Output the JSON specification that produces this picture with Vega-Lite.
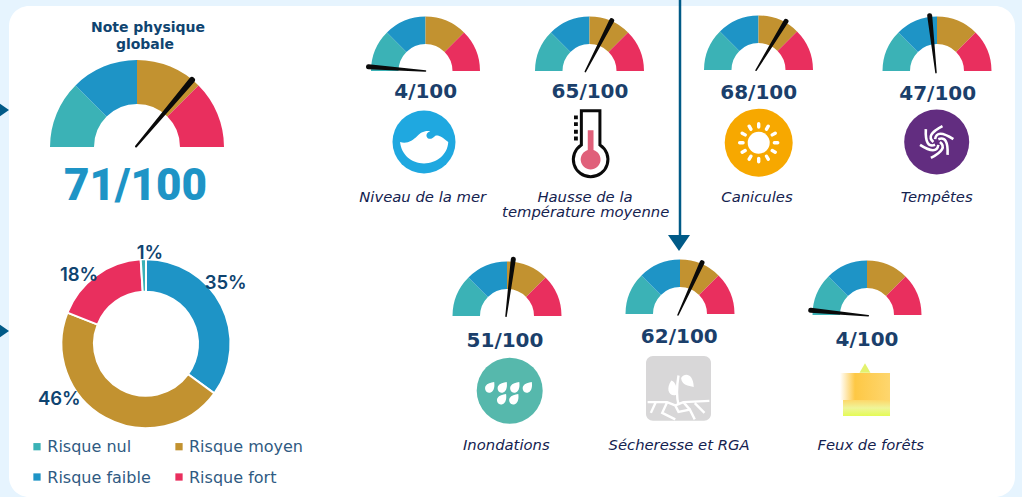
{"$schema":"https://vega.github.io/schema/vega-lite/v6.json","width":1022,"height":497,"padding":0,"autosize":"none","background":"#E6F4FE","config":{"view":{"stroke":null}},
"datasets":{
"seg":[
{"g":"Note physique globale","s":"main","col":137,"row":147,"cat":"Risque nul","from":0,"to":25},{"g":"Note physique globale","s":"main","col":137,"row":147,"cat":"Risque faible","from":25,"to":50},{"g":"Note physique globale","s":"main","col":137,"row":147,"cat":"Risque moyen","from":50,"to":75},{"g":"Note physique globale","s":"main","col":137,"row":147,"cat":"Risque fort","from":75,"to":100},
{"g":"Niveau de la mer","s":"small","col":425.5,"row":71,"cat":"Risque nul","from":0,"to":25},{"g":"Niveau de la mer","s":"small","col":425.5,"row":71,"cat":"Risque faible","from":25,"to":50},{"g":"Niveau de la mer","s":"small","col":425.5,"row":71,"cat":"Risque moyen","from":50,"to":75},{"g":"Niveau de la mer","s":"small","col":425.5,"row":71,"cat":"Risque fort","from":75,"to":100},
{"g":"Hausse","s":"small","col":589.5,"row":71,"cat":"Risque nul","from":0,"to":25},{"g":"Hausse","s":"small","col":589.5,"row":71,"cat":"Risque faible","from":25,"to":50},{"g":"Hausse","s":"small","col":589.5,"row":71,"cat":"Risque moyen","from":50,"to":75},{"g":"Hausse","s":"small","col":589.5,"row":71,"cat":"Risque fort","from":75,"to":100},
{"g":"Canicules","s":"small","col":758.5,"row":70,"cat":"Risque nul","from":0,"to":25},{"g":"Canicules","s":"small","col":758.5,"row":70,"cat":"Risque faible","from":25,"to":50},{"g":"Canicules","s":"small","col":758.5,"row":70,"cat":"Risque moyen","from":50,"to":75},{"g":"Canicules","s":"small","col":758.5,"row":70,"cat":"Risque fort","from":75,"to":100},
{"g":"Tempêtes","s":"small","col":937,"row":71,"cat":"Risque nul","from":0,"to":25},{"g":"Tempêtes","s":"small","col":937,"row":71,"cat":"Risque faible","from":25,"to":50},{"g":"Tempêtes","s":"small","col":937,"row":71,"cat":"Risque moyen","from":50,"to":75},{"g":"Tempêtes","s":"small","col":937,"row":71,"cat":"Risque fort","from":75,"to":100},
{"g":"Inondations","s":"small","col":507,"row":316,"cat":"Risque nul","from":0,"to":25},{"g":"Inondations","s":"small","col":507,"row":316,"cat":"Risque faible","from":25,"to":50},{"g":"Inondations","s":"small","col":507,"row":316,"cat":"Risque moyen","from":50,"to":75},{"g":"Inondations","s":"small","col":507,"row":316,"cat":"Risque fort","from":75,"to":100},
{"g":"Sécheresse","s":"small","col":680,"row":314,"cat":"Risque nul","from":0,"to":25},{"g":"Sécheresse","s":"small","col":680,"row":314,"cat":"Risque faible","from":25,"to":50},{"g":"Sécheresse","s":"small","col":680,"row":314,"cat":"Risque moyen","from":50,"to":75},{"g":"Sécheresse","s":"small","col":680,"row":314,"cat":"Risque fort","from":75,"to":100},
{"g":"Feux","s":"small","col":867,"row":315,"cat":"Risque nul","from":0,"to":25},{"g":"Feux","s":"small","col":867,"row":315,"cat":"Risque faible","from":25,"to":50},{"g":"Feux","s":"small","col":867,"row":315,"cat":"Risque moyen","from":50,"to":75},{"g":"Feux","s":"small","col":867,"row":315,"cat":"Risque fort","from":75,"to":100}
],
"needle":[
{"g":"Note physique globale","col":136,"row":146.5,"w":2},{"g":"Note physique globale","col":192,"row":80,"w":6},
{"g":"Niveau de la mer","col":425.5,"row":71,"w":1.5},{"g":"Niveau de la mer","col":368.5,"row":66.7,"w":5},
{"g":"Hausse","col":585.3,"row":71.7,"w":1.5},{"g":"Hausse","col":611.7,"row":20.7,"w":5},
{"g":"Canicules","col":756,"row":70.3,"w":1.5},{"g":"Canicules","col":786,"row":21.3,"w":5},
{"g":"Tempêtes","col":936,"row":72.7,"w":1.5},{"g":"Tempêtes","col":929.7,"row":15.7,"w":5},
{"g":"Inondations","col":506,"row":316.3,"w":1.5},{"g":"Inondations","col":513.3,"row":259.3,"w":5},
{"g":"Sécheresse","col":678,"row":315,"w":1.5},{"g":"Sécheresse","col":702,"row":262.7,"w":5},
{"g":"Feux","col":868.3,"row":315.7,"w":1.5},{"g":"Feux","col":810.7,"row":310.3,"w":5}
]},
"encoding":{
"x":{"field":"col","type":"quantitative","scale":{"domain":[0,1022],"range":[0,1022],"nice":false,"zero":false},"axis":null},
"y":{"field":"row","type":"quantitative","scale":{"domain":[0,497],"range":[0,497],"nice":false,"zero":false},"axis":null}},
"layer":[
{"data":{"values":[{"col":9,"row":6,"col2":1015,"row2":497}]},"mark":{"type":"rect","fill":"#FFFFFF","cornerRadius":20},"encoding":{"x2":{"field":"col2"},"y2":{"field":"row2"}}},
{"data":{"values":[{"col":680,"row":0,"row2":238}]},"mark":{"type":"rule","stroke":"#005A87","strokeWidth":2.5},"encoding":{"y2":{"field":"row2"}}},
{"data":{"values":[{"col":1,"row":110},{"col":1,"row":331}]},"mark":{"type":"point","shape":"M-0.73,-1L0.73,0L-0.73,1Z","filled":true,"fill":"#005A87","opacity":1,"size":484,"strokeWidth":0}},
{"data":{"values":[{"col":679,"row":243}]},"mark":{"type":"point","shape":"M-1,-0.73L1,-0.73L0,0.73Z","filled":true,"fill":"#005A87","opacity":1,"size":484,"strokeWidth":0}},
{"data":{"name":"seg"},"transform":[{"filter":"datum.s==='main'"}],"mark":{"type":"arc","radius":87,"radius2":43},"encoding":{"theta":{"field":"from","type":"quantitative","stack":null,"scale":{"domain":[0,100],"range":[-1.5708,1.5708]}},"theta2":{"field":"to"},"color":{"field":"cat","type":"nominal","legend":null,"scale":{"domain":["Risque nul","Risque faible","Risque moyen","Risque fort"],"range":["#3BB2B6","#1E94C6","#C29230","#E92F5E"]}}}},
{"data":{"name":"seg"},"transform":[{"filter":"datum.s==='small'"}],"mark":{"type":"arc","radius":54.5,"radius2":27},"encoding":{"theta":{"field":"from","type":"quantitative","stack":null,"scale":{"domain":[0,100],"range":[-1.5708,1.5708]}},"theta2":{"field":"to"},"color":{"field":"cat","type":"nominal","legend":null}}},
{"data":{"name":"needle"},"mark":{"type":"trail","fill":"#0A0A0A","opacity":1},"encoding":{"detail":{"field":"g"},"size":{"field":"w","type":"quantitative","legend":null,"scale":{"domain":[0,6],"range":[0,6]}}}},
{"data":{"values":[{"col":146,"row":343.7,"cat":"Risque faible","share":35,"rank":1},{"col":146,"row":343.7,"cat":"Risque moyen","share":46,"rank":2},{"col":146,"row":343.7,"cat":"Risque fort","share":18,"rank":3},{"col":146,"row":343.7,"cat":"Risque nul","share":1,"rank":4}]},"mark":{"type":"arc","radius":84.5,"radius2":52,"stroke":"#FFFFFF","strokeWidth":2},"encoding":{"theta":{"field":"share","type":"quantitative","stack":true,"scale":{"domain":[0,100],"range":[0,6.2832]}},"order":{"field":"rank"},"color":{"field":"cat","type":"nominal","legend":null}}},
{"data":{"values":[{"col":37,"row":446.7,"cat":"Risque nul"},{"col":179,"row":446.7,"cat":"Risque moyen"},{"col":37,"row":477,"cat":"Risque faible"},{"col":179,"row":477,"cat":"Risque fort"}]},"mark":{"type":"point","shape":"square","filled":true,"size":53,"opacity":1},"encoding":{"color":{"field":"cat","type":"nominal","legend":null}}},
{"data":{"values":[{"col":47.3,"row":452,"t":"Risque nul"},{"col":189,"row":452,"t":"Risque moyen"},{"col":47.3,"row":482.7,"t":"Risque faible"},{"col":189,"row":482.7,"t":"Risque fort"}]},"mark":{"type":"text","align":"left","baseline":"alphabetic","font":"DejaVu Sans","fontSize":16,"fontWeight":400,"fill":"#2F5A82"},"encoding":{"text":{"field":"t"}}},
{"data":{"values":[{"col":150,"row":259,"t":"1%"},{"col":79,"row":280.7,"t":"18%"},{"col":225.7,"row":289,"t":"35%"},{"col":59.3,"row":404.7,"t":"46%"}]},"mark":{"type":"text","align":"center","baseline":"alphabetic","font":"Inter","fontSize":18.5,"fontWeight":600,"fill":"#0F4470"},"encoding":{"text":{"field":"t"}}},
{"data":{"values":[{"col":148,"row":32,"t":"Note physique"},{"col":145,"row":49,"t":"globale"}]},"mark":{"type":"text","align":"center","baseline":"alphabetic","font":"DejaVu Sans","fontSize":14,"fontWeight":700,"fill":"#0F4470"},"encoding":{"text":{"field":"t"}}},
{"data":{"values":[{"col":135.5,"row":200,"t":"71/100"}]},"mark":{"type":"text","align":"center","baseline":"alphabetic","font":"Roboto","fontSize":44,"fontWeight":900,"fill":"#1E94C6"},"encoding":{"text":{"field":"t"}}},
{"data":{"values":[{"col":425.7,"row":98,"t":"4/100"},{"col":590,"row":98,"t":"65/100"},{"col":758.7,"row":99,"t":"68/100"},{"col":937.7,"row":100,"t":"47/100"},{"col":505,"row":346.7,"t":"51/100"},{"col":679.3,"row":342.7,"t":"62/100"},{"col":867,"row":345.7,"t":"4/100"}]},"mark":{"type":"text","align":"center","baseline":"alphabetic","font":"DejaVu Sans","fontSize":20,"fontWeight":700,"fill":"#1B3F6B"},"encoding":{"text":{"field":"t"}}},
{"data":{"values":[{"col":422.7,"row":201.7,"t":"Niveau de la mer"},{"col":585,"row":201.7,"t":"Hausse de la"},{"col":585.7,"row":217.3,"t":"température moyenne"},{"col":757,"row":201.7,"t":"Canicules"},{"col":936.7,"row":201.7,"t":"Tempêtes"},{"col":506.3,"row":450,"t":"Inondations"},{"col":679,"row":450,"t":"Sécheresse et RGA"},{"col":870.7,"row":450,"t":"Feux de forêts"}]},"mark":{"type":"text","align":"center","baseline":"alphabetic","font":"DejaVu Sans","fontSize":14.8,"fontStyle":"italic","fontWeight":400,"fill":"#14224F"},"encoding":{"text":{"field":"t"}}},
{"data":{"values":[{"col":424,"row":142}]},"mark":{"type":"point","shape":"circle","filled":true,"fill":"#1FA8E0","opacity":1,"size":3969,"strokeWidth":0}},
{"data":{"values":[{"col":424,"row":142}]},"mark":{"type":"point","shape":"M-.76,0C-.55,.08,-.35,-.05,-.22,-.18C-.12,-.28,0,-.37,.2,-.34C.08,-.3,.04,-.2,.12,-.12C.2,-.07,.28,-.12,.36,-.2C.45,-.24,.6,-.15,.77,0C.75,.4,.4,.68,0,.68C-.4,.68,-.72,.4,-.76,0Z","filled":true,"fill":"#FFFFFF","opacity":1,"size":3969,"strokeWidth":0}},
{"data":{"values":[{"col":590,"row":141.7}]},"mark":{"type":"point","shape":"M-.07,-.36L.11,-.36L.11,.26A.31,.31,0,1,1,-.07,.26Z","filled":true,"fill":"#E0607A","opacity":1,"size":4096,"strokeWidth":0}},
{"data":{"values":[{"col":590,"row":141.7}]},"mark":{"type":"point","shape":"M-.27,-.97L.31,-.97L.31,.1A.54,.54,0,1,1,-.27,.1Z","filled":false,"stroke":"#0A0A0A","opacity":1,"size":4096,"strokeWidth":3}},
{"data":{"values":[{"col":590,"row":141.7}]},"mark":{"type":"point","shape":"M-.5,-.82H-.38V-.7H-.5ZM-.5,-.61H-.38V-.49H-.5ZM-.5,-.37H-.38V-.25H-.5ZM-.5,-.16H-.38V-.04H-.5Z","filled":true,"fill":"#0A0A0A","opacity":1,"size":4096,"strokeWidth":0}},
{"data":{"values":[{"col":758.7,"row":142.7}]},"mark":{"type":"point","shape":"circle","filled":true,"fill":"#F7A800","opacity":1,"size":4624,"strokeWidth":0}},
{"data":{"values":[{"col":758.7,"row":142.7}]},"mark":{"type":"point","shape":"circle","filled":true,"fill":"#FFFFFF","opacity":1,"size":484,"strokeWidth":0}},
{"data":{"values":[{"col":758.7,"row":142.7}]},"mark":{"type":"point","shape":"M0,-.46L0,-.56M.23,-.398L.28,-.485M.398,-.23L.485,-.28M.46,0L.56,0M.398,.23L.485,.28M.23,.398L.28,.485M0,.46L0,.56M-.23,.398L-.28,.485M-.398,.23L-.485,.28M-.46,0L-.56,0M-.398,-.23L-.485,-.28M-.23,-.398L-.28,-.485","filled":false,"stroke":"#FFFFFF","opacity":1,"size":4624,"strokeWidth":3.4,"strokeCap":"round"}},
{"data":{"values":[{"col":936.7,"row":142}]},"mark":{"type":"point","shape":"circle","filled":true,"fill":"#622D80","opacity":1,"size":4225,"strokeWidth":0}},
{"data":{"values":[{"col":936.7,"row":142}]},"mark":{"type":"point","shape":"M.1,0Q.364,.21,-.178,.489M.05,.087Q0,.42,-.512,.09M-.05,.087Q-.364,.21,-.334,-.398M-.1,0Q-.364,-.21,.178,-.489M-.05,-.087Q0,-.42,.512,-.09M.05,-.087Q.364,-.21,.334,.398","filled":false,"stroke":"#FFFFFF","opacity":1,"size":4225,"strokeWidth":2.6}},
{"data":{"values":[{"col":509.7,"row":390.7}]},"mark":{"type":"point","shape":"circle","filled":true,"fill":"#56B8AC","opacity":1,"size":4356,"strokeWidth":0}},
{"data":{"values":[{"col":509.7,"row":390.7}]},"mark":{"type":"point","shape":"M-.47,-.26c.03,.21,-.05,.32,-.16,.32c-.11,0,-.14,-.14,-.1,-.2c.05,-.08,.16,-.1,.26,-.12zM-.09,-.26c.03,.21,-.05,.32,-.16,.32c-.11,0,-.14,-.14,-.1,-.2c.05,-.08,.16,-.1,.26,-.12zM.29,-.26c.03,.21,-.05,.32,-.16,.32c-.11,0,-.14,-.14,-.1,-.2c.05,-.08,.16,-.1,.26,-.12zM.67,-.26c.03,.21,-.05,.32,-.16,.32c-.11,0,-.14,-.14,-.1,-.2c.05,-.08,.16,-.1,.26,-.12zM-.11,.1c.03,.21,-.05,.32,-.16,.32c-.11,0,-.14,-.14,-.1,-.2c.05,-.08,.16,-.1,.26,-.12zM.26,.1c.03,.21,-.05,.32,-.16,.32c-.11,0,-.14,-.14,-.1,-.2c.05,-.08,.16,-.1,.26,-.12z","filled":true,"fill":"#FFFFFF","opacity":1,"size":4356,"strokeWidth":0}},
{"data":{"values":[{"col":646,"row":356,"col2":711,"row2":420.7}]},"mark":{"type":"rect","fill":"#D8D7D8","cornerRadius":7},"encoding":{"x2":{"field":"col2"},"y2":{"field":"row2"}}},
{"data":{"values":[{"col":678.5,"row":388.5}]},"mark":{"type":"point","shape":"M-.95,.42L-.35,.42L-.1,.52L.15,.42L.95,.38M-.7,.42L-.85,.75M-.35,.42L-.5,.75L-.1,.95M-.1,.52L0,.72L.35,.65L.5,.95M.15,.42L.35,.65M.5,.45L.8,.75M0,.5C-.08,.2,-.05,-.1,0,-.4","filled":false,"stroke":"#FFFFFF","opacity":1,"size":4225,"strokeWidth":2.4}},
{"data":{"values":[{"col":678.5,"row":388.5}]},"mark":{"type":"point","shape":"M.08,-.32C.2,-.5,.45,-.45,.47,-.05C.3,-.08,.1,-.1,.08,-.32ZM-.08,.2C-.3,.25,-.4,0,-.22,-.25C-.08,-.2,-.02,0,-.08,.2Z","filled":true,"fill":"#FFFFFF","opacity":1,"size":4225,"strokeWidth":0}},
{"data":{"values":[{"col":865,"row":368}]},"mark":{"type":"point","shape":"triangle-up","filled":true,"fill":"#E3F26E","opacity":1,"size":120,"strokeWidth":0}},
{"data":{"values":[{"col":840,"row":373,"col2":890,"row2":400}]},"mark":{"type":"rect","fill":{"gradient":"linear","x1":0,"x2":1,"y1":0,"y2":0,"stops":[{"offset":0,"color":"#FFFFFF"},{"offset":0.3,"color":"#FDC845"},{"offset":1,"color":"#FED66E"}]}},"encoding":{"x2":{"field":"col2"},"y2":{"field":"row2"}}},
{"data":{"values":[{"col":843,"row":400,"col2":890,"row2":416}]},"mark":{"type":"rect","fill":{"gradient":"linear","x1":0,"x2":0,"y1":0,"y2":1,"stops":[{"offset":0,"color":"#FDD76A"},{"offset":0.5,"color":"#EFF59A"},{"offset":1,"color":"#E4FB55"}]}},"encoding":{"x2":{"field":"col2"},"y2":{"field":"row2"}}}
],
"resolve":{"scale":{"theta":"independent"}}}
